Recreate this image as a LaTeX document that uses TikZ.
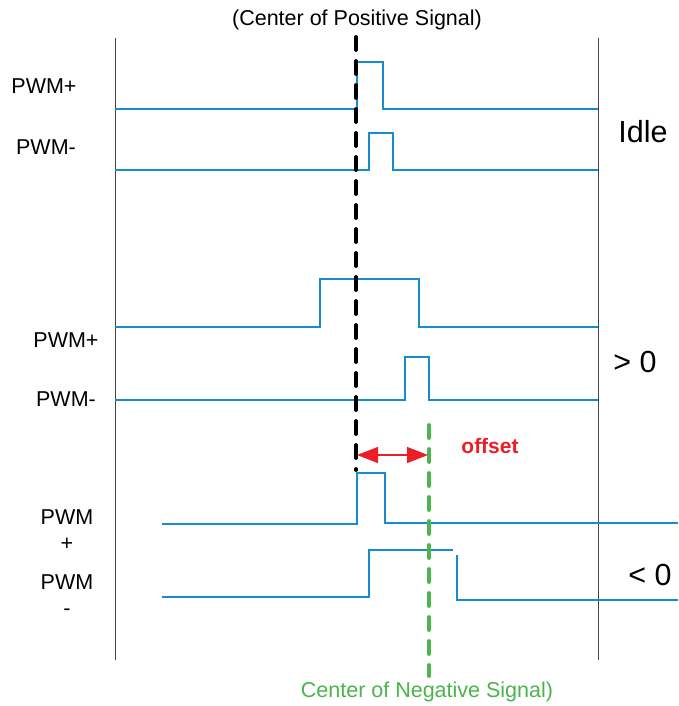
\documentclass[tikz,border=0pt]{standalone}
\usepackage{fontspec}
\setmainfont{Liberation Sans}
\usetikzlibrary{arrows.meta}

\definecolor{sigblue}{RGB}{20,140,205}
\definecolor{axgray}{RGB}{70,70,70}
\definecolor{negreen}{RGB}{75,180,75}
\definecolor{offred}{RGB}{235,30,40}

\tikzset{
  sig/.style={sigblue, line width=1.1pt},
  axisline/.style={axgray, line width=1pt},
  ctrline/.style={line width=3.8pt, dash pattern=on 13pt off 11pt, line cap=round},
  lbl/.style={font=\fontsize{21.5}{26}\selectfont, inner sep=0pt, align=center},
  state/.style={font=\fontsize{30.5}{34}\selectfont, inner sep=0pt},
}

\begin{document}
\begin{tikzpicture}[x=1pt, y=-1pt]
    \useasboundingbox (0,0) rectangle (678,706);

    % Eixos
    \draw[axisline] (115,38) -- (115,660);
    \draw[axisline] (598,38) -- (598,660);

    % Idle
    \draw[sig] (115,109) -- (357,109) -- (357,62) -- (383,62) -- (383,109) -- (598,109);
    \draw[sig] (115,170) -- (369,170) -- (369,133) -- (393,133) -- (393,170) -- (598,170);

    % > 0
    \draw[sig] (115,327) -- (320,327) -- (320,279) -- (419,279) -- (419,327) -- (598,327);
    \draw[sig] (115,400) -- (405,400) -- (405,357) -- (429,357) -- (429,400) -- (598,400);

    % < 0
    \draw[sig] (162,524) -- (357,524) -- (357,473) -- (385,473) -- (385,523) -- (678,523);
    \draw[sig] (162,597) -- (369,597) -- (369,550) -- (453,550);
    \draw[sig] (457,555) -- (457,600) -- (678,600);

    % Centros
    \coordinate (postop) at (356,37);
    \coordinate (posbot) at (356,470);
    \coordinate (negtop) at (429,425);
    \coordinate (negbot) at (429,676);
    \draw[ctrline, black] (postop) -- (posbot);
    \draw[ctrline, negreen] (negtop) -- (negbot);

    \node[lbl] (postext) at (357,20) {(Center of Positive Signal)};
    \node[lbl, text=negreen] (negtext) at (427,692) {Center of Negative Signal)};

    % Offset
    \coordinate (posoff) at (357,455);
    \coordinate (negoff) at (428,455);
    \draw[offred, line width=1.1pt, {Triangle[length=21pt,width=16pt]}-{Triangle[length=21pt,width=16pt]}] (posoff) -- (negoff);
    \node[lbl, text=offred, font=\fontsize{21}{22}\selectfont\bfseries] (offtext) at (490,446) {offset};

    % Nomes
    \node[lbl] (idlep) at (44,86) {PWM+};
    \node[lbl] (idlem) at (46,147) {PWM-};
    \node[lbl] (posp) at (66,340) {PWM+};
    \node[lbl] (posm) at (66,399) {PWM-};
    \node[lbl] (negp) at (67,530) {PWM\\+};
    \node[lbl] (negm) at (67,595) {PWM\\-};

    \node[state] (idle) at (643,132) {Idle};
    \node[state] (gtzero) at (635,362) {> 0};
    \node[state] (ltzero) at (650,575) {< 0};

\end{tikzpicture}
\end{document}
